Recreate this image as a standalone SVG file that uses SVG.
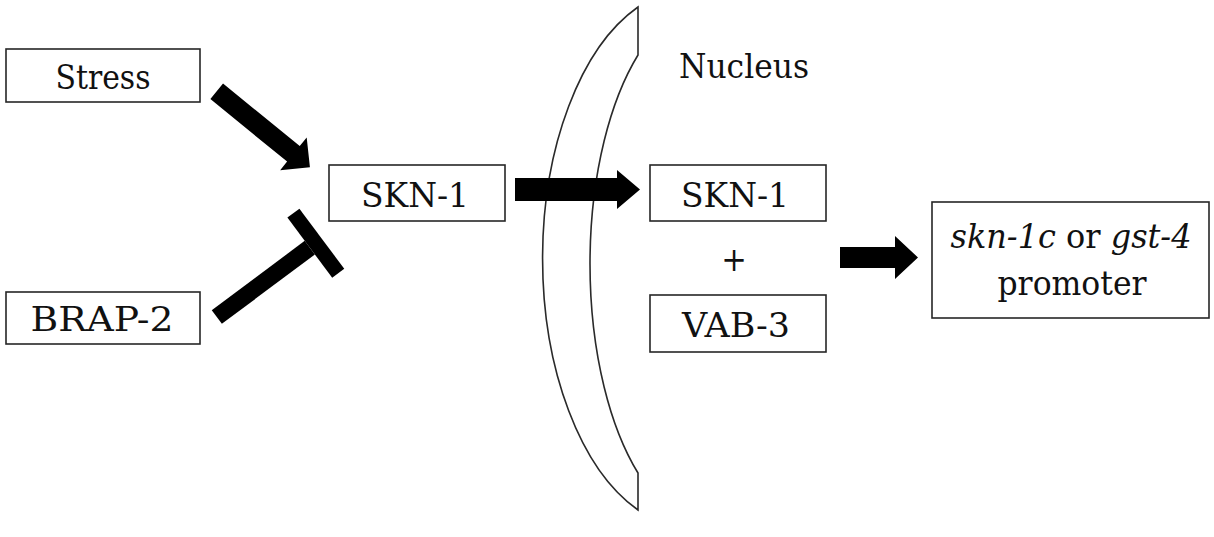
<svg xmlns="http://www.w3.org/2000/svg" width="1214" height="537" viewBox="0 0 1214 537">
  <style>
    .box { fill: #ffffff; stroke: #262626; stroke-width: 1.6; }
    text { font-family: 'DejaVu Serif Condensed', 'DejaVu Serif', serif; font-stretch: condensed; font-size: 34px; fill: #111111; }
    .mid { text-anchor: middle; }
    .arrow { fill: #000000; }
    .membrane { fill: none; stroke: #2a2a2a; stroke-width: 1.6; }
  </style>
  <rect width="1214" height="537" fill="#ffffff"/>

  <!-- nuclear envelope -->
  <g id="nucleus">
    <path class="membrane" d="M638,7 A150,270 0 0 0 638,510 L638,473 A120,261.25 0 0 1 638,55 Z"/>
    <text x="679" y="78" textLength="130" lengthAdjust="spacingAndGlyphs">Nucleus</text>
  </g>

  <g id="stress">
    <rect class="box" x="6" y="49" width="194" height="53"/>
    <text class="mid" x="103" y="89" textLength="95" lengthAdjust="spacingAndGlyphs">Stress</text>
  </g>

  <g id="brap2">
    <rect class="box" x="6" y="292" width="194" height="52"/>
    <text class="mid" x="102" y="331" textLength="143" lengthAdjust="spacingAndGlyphs">BRAP-2</text>
  </g>

  <g id="skn1-cyto">
    <rect class="box" x="329" y="165" width="176" height="56"/>
    <text class="mid" x="415" y="207" textLength="108" lengthAdjust="spacingAndGlyphs">SKN-1</text>
  </g>

  <g id="skn1-nuc">
    <rect class="box" x="650" y="165" width="176" height="56"/>
    <text class="mid" x="735" y="207" textLength="108" lengthAdjust="spacingAndGlyphs">SKN-1</text>
  </g>

  <g id="plus">
    <text class="mid" x="734" y="271">+</text>
  </g>

  <g id="vab3">
    <rect class="box" x="650" y="295" width="176" height="57"/>
    <text class="mid" x="736" y="337" textLength="108" lengthAdjust="spacingAndGlyphs">VAB-3</text>
  </g>

  <g id="promoter">
    <rect class="box" x="932" y="202" width="277" height="116"/>
    <text class="mid" x="1071" y="248" textLength="241" lengthAdjust="spacingAndGlyphs"><tspan font-style="italic">skn-1c</tspan> or <tspan font-style="italic">gst-4</tspan></text>
    <text class="mid" x="1072" y="295" textLength="149" lengthAdjust="spacingAndGlyphs">promoter</text>
  </g>

  <g id="connectors">
    <!-- Stress activates SKN-1 -->
    <g transform="translate(216.7,91.3) rotate(39.2)">
      <polygon class="arrow" points="0,-10 99,-10 99,-21 120.3,0 99,21 99,10 0,10"/>
    </g>
    <!-- BRAP-2 inhibits SKN-1 -->
    <g transform="translate(216.8,317) rotate(-36.7)">
      <polygon class="arrow" points="0,-8.5 116,-8.5 116,8.5 0,8.5"/>
      <polygon class="arrow" points="116,-37.5 131,-37.5 131,37.5 116,37.5"/>
    </g>
    <!-- SKN-1 enters the nucleus -->
    <polygon class="arrow" points="515,178 617,178 617,170 640,189.5 617,209 617,201 515,201"/>
    <!-- complex acts on promoter -->
    <polygon class="arrow" points="840,247 895,247 895,236 918,257.5 895,279 895,268 840,268"/>
  </g>
</svg>
